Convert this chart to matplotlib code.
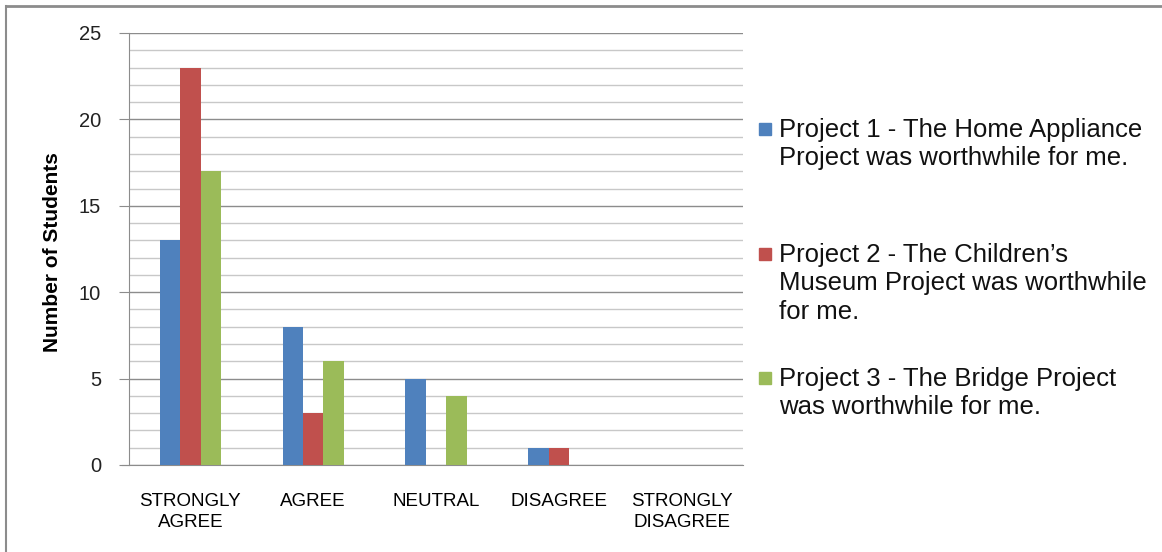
import numpy as np
import matplotlib.pyplot as plt
from matplotlib.lines import Line2D
from matplotlib.patches import Rectangle

categories = ['STRONGLY\nAGREE', 'AGREE', 'NEUTRAL', 'DISAGREE', 'STRONGLY\nDISAGREE']
project1 = [13, 8, 5, 1, 0]
project2 = [23, 3, 0, 1, 0]
project3 = [17, 6, 4, 0, 0]
labels = ['Project 1 - The Home Appliance\nProject was worthwhile for me.',
          'Project 2 - The Children\u2019s\nMuseum Project was worthwhile\nfor me.',
          'Project 3 - The Bridge Project\nwas worthwhile for me.']
colors = ['#4F81BD', '#C0504D', '#9BBB59']

plt.rcParams['font.family'] = ['Liberation Sans', 'DejaVu Sans']

W, H = 1162, 552
fig = plt.figure(figsize=(W / 100, H / 100), dpi=100)
ax = fig.add_axes([129 / W, 1 - 465 / H, (743 - 129) / W, (465 - 33) / H])

x = np.arange(len(categories))
bw = 0.5 / 3
series = [project1, project2, project3]
for i, (vals, c) in enumerate(zip(series, colors)):
    ax.bar(x + (i - 1) * bw, vals, bw, color=c, zorder=3)

ax.set_xlim(-0.5, len(categories) - 0.5)
ax.set_ylim(0, 25)
ax.set_yticks(range(0, 26, 5))
ax.set_yticks(range(0, 26), minor=True)
ax.yaxis.grid(True, which='major', color='#8c8c8c', lw=1, zorder=0)
ax.yaxis.grid(True, which='minor', color='#c8c8c8', lw=1, zorder=0)
ax.tick_params(axis='y', which='major', length=7, color='#8c8c8c', labelsize=14.5, pad=13,
               labelcolor='#222222')
ax.tick_params(axis='y', which='minor', length=0)
ax.set_xticks(x)
ax.set_xticklabels(categories, fontsize=13.5, linespacing=1.35, fontweight='medium')
ax.tick_params(axis='x', length=0, pad=20)
for s in ['top', 'right']:
    ax.spines[s].set_visible(False)
for s in ['left', 'bottom']:
    ax.spines[s].set_color('#8c8c8c')
ax.spines['bottom'].set_bounds(-0.5 - 7 / 122.8, len(categories) - 0.5)
ax.set_ylabel('Number of Students', fontsize=15, fontweight='bold')
ax.yaxis.set_label_coords((62 - 129) / (743 - 129), 0.493)

# legend drawn by hand so the squares line up with the first text line
entry_y = [129, 254, 378]
for lab, c, yy in zip(labels, colors, entry_y):
    fig.add_artist(Rectangle((759 / W, 1 - (yy + 6) / H), 12 / W, 12 / H,
                             transform=fig.transFigure, color=c))
    fig.text(779 / W, 1 - (yy - 11) / H, lab, fontsize=18.5, va='top', ha='left',
             linespacing=1.23, color='#111111')

fig.add_artist(Line2D([6 / W, 6 / W], [0, 1 - 5.5 / H], color='#8c8c8c', lw=1.5))
fig.add_artist(Line2D([6 / W, 1], [1 - 5.5 / H, 1 - 5.5 / H], color='#8c8c8c', lw=2))

fig.savefig('out.png', dpi=100)
